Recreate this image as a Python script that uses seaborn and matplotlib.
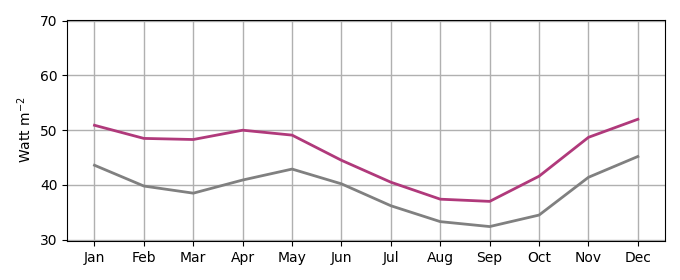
import matplotlib
matplotlib.use("Agg")
import matplotlib.pyplot as plt
import seaborn as sns
import pandas as pd

months = ["Jan", "Feb", "Mar", "Apr", "May", "Jun", "Jul", "Aug", "Sep", "Oct", "Nov", "Dec"]
series_upper = [50.9, 48.5, 48.3, 50.0, 49.1, 44.5, 40.5, 37.4, 37.0, 41.6, 48.7, 52.0]
series_lower = [43.6, 39.8, 38.5, 40.9, 42.9, 40.2, 36.2, 33.3, 32.4, 34.5, 41.4, 45.2]

df = pd.DataFrame({
    "x": list(range(12)) * 2,
    "val": series_upper + series_lower,
    "series": ["upper"] * 12 + ["lower"] * 12,
})

fig, ax = plt.subplots(figsize=(6.8, 2.8), dpi=100)
sns.lineplot(data=df, x="x", y="val", hue="series",
             palette={"upper": "#b0397b", "lower": "#808080"},
             linewidth=2, ax=ax, legend=False, zorder=3)
ax.set_xticks(range(12))
ax.set_xticklabels(months)
ax.set_xlim(-0.55, 11.55)
ax.set_ylim(29.8, 70.2)
ax.set_yticks([30, 40, 50, 60, 70])
ax.grid(True, color="#b0b0b0", linewidth=1)
ax.set_axisbelow(True)
ax.set_xlabel("")
ax.set_ylabel("Watt m$^{-2}$")
fig.subplots_adjust(left=0.099, right=0.978, top=0.93, bottom=0.14)
fig.savefig("out.png", dpi=100)
